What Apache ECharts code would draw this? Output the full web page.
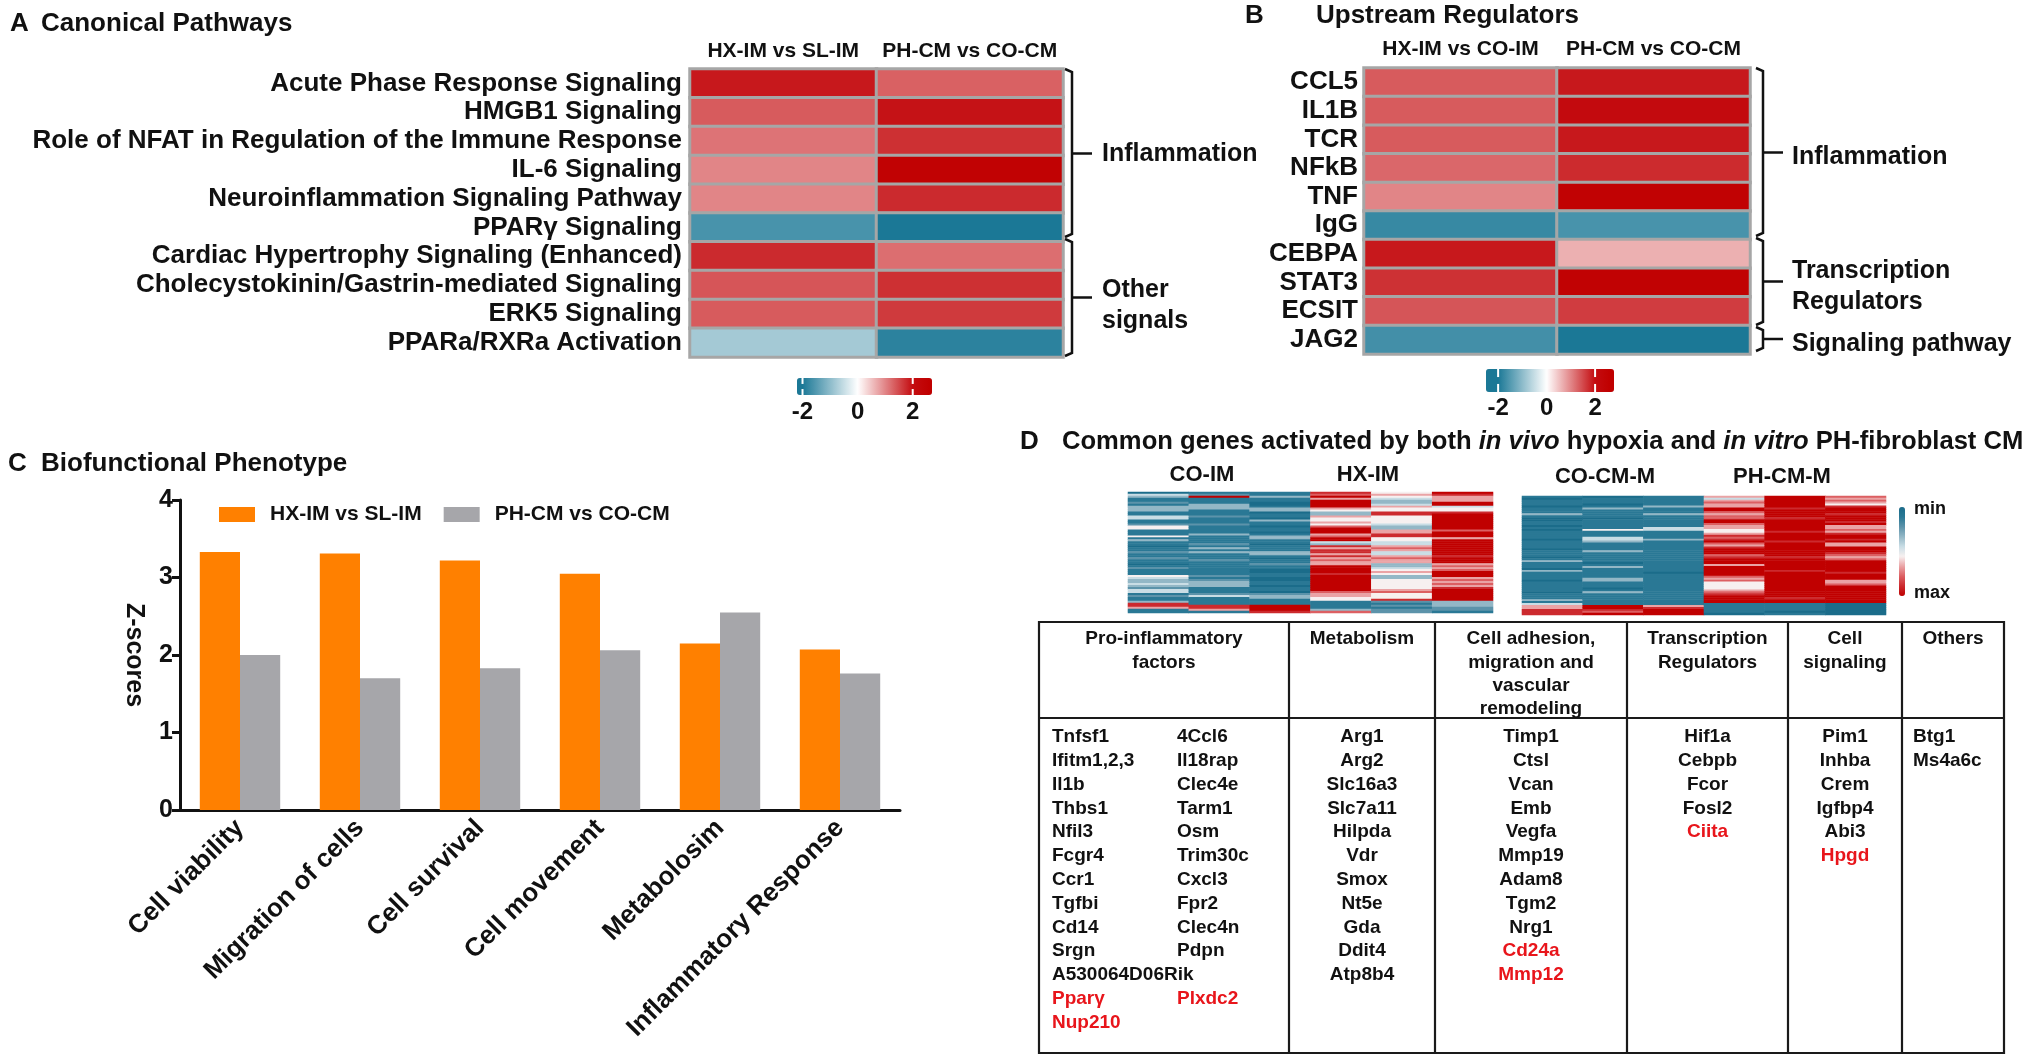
<!DOCTYPE html>
<html><head><meta charset="utf-8">
<script src="https://cdn.jsdelivr.net/npm/echarts@6/dist/echarts.min.js"></script>
<style>html,body{margin:0;padding:0;background:#fff}#c{width:2036px;height:1061px}</style>
</head><body><div id="c"></div><script>
const FONT = '"Liberation Sans", Arial, Helvetica, sans-serif';
const INK = '#111111';

// ---------- Panel A: Canonical Pathways ----------
const pathwayCols = ['HX-IM vs SL-IM', 'PH-CM vs CO-CM'];
const pathways = ['Acute Phase Response Signaling', 'HMGB1 Signaling', 'Role of NFAT in Regulation of the Immune Response',
  'IL-6 Signaling', 'Neuroinflammation Signaling Pathway', 'PPARγ Signaling', 'Cardiac Hypertrophy Signaling (Enhanced)',
  'Cholecystokinin/Gastrin-mediated Signaling', 'ERK5 Signaling', 'PPARa/RXRa Activation'];
const pathwayHX = [1.9, 1.35, 1.15, 1.0, 1.0, -1.6, 1.75, 1.4, 1.35, -0.8];
const pathwayPH = [1.3, 1.95, 1.7, 2.5, 1.75, -2.3, 1.2, 1.7, 1.62, -1.85];
const pathwayGroups = [['Inflammation'], ['Other', 'signals']];

// ---------- Panel B: Upstream Regulators ----------
const regulatorCols = ['HX-IM vs CO-IM', 'PH-CM vs CO-CM'];
const regulators = ['CCL5', 'IL1B', 'TCR', 'NFkB', 'TNF', 'IgG', 'CEBPA', 'STAT3', 'ECSIT', 'JAG2'];
const regulatorHX = [1.35, 1.35, 1.35, 1.25, 1.0, -1.75, 1.9, 1.7, 1.4, -1.65];
const regulatorPH = [1.9, 2.1, 1.9, 1.75, 2.5, -1.6, 0.65, 2.5, 1.6, -2.3];
const regulatorGroups = [['Inflammation'], ['Transcription', 'Regulators'], ['Signaling pathway']];
const scaleTicks = [-2, 0, 2];

// ---------- Panel C: Biofunctional Phenotype ----------
const phenotypes = ['Cell viability', 'Migration of cells', 'Cell survival', 'Cell movement', 'Metabolosim', 'Inflammatory Response'];
const seriesNames = ['HX-IM vs SL-IM', 'PH-CM vs CO-CM'];
const zHX = [3.33, 3.31, 3.22, 3.05, 2.15, 2.07];
const zPH = [2.00, 1.70, 1.83, 2.06, 2.55, 1.76];

// ---------- Panel D: heatmaps (0 = min ... 9 = max) ----------
const invivoGroups = ['CO-IM', 'HX-IM'];
const invitroGroups = ['CO-CM-M', 'PH-CM-M'];
const coIM1 = [0,4,3,1,1,2,1,3,3,3, 1,1,4,4,1,1,2,5,5,1, 1,1,5,1,3,1,1,0,1,1, 2,1,1,2,1,1,0,1,2,1, 1,1,5,4,3,3,4,3,2,4, 4,1,2,1,1,3,8,8,6,1, 1];
const coIM2 = [1,2,9,1,1,1,3,3,3,1, 1,1,2,1,1,1,2,1,1,1, 1,3,1,1,1,1,2,1,3,1, 3,1,1,1,2,1,1,1,1,1, 1,1,2,1,2,3,3,3,1,1, 1,2,4,1,1,1,1,8,8,6, 1];
const coIM3 = [1,1,3,1,1,0,0,1,3,3, 0,1,1,0,3,1,1,0,1,1, 0,1,3,3,1,1,0,1,1,1, 3,3,1,0,1,1,2,1,1,0, 0,1,1,0,0,1,1,0,1,1, 0,2,3,3,1,1,1,9,9,9, 8];
const hxIM1 = [8,7,9,6,9,9,9,9,6,5, 3,3,6,5,5,6,5,7,9,9, 9,6,7,9,9,4,3,8,6,8, 8,6,8,6,7,6,6,9,9,9, 9,8,9,9,9,9,9,9,9,9, 7,6,6,5,5,1,1,1,1,3, 7];
const hxIM2 = [5,6,5,4,3,3,4,6,5,5, 8,8,5,5,5,5,4,3,3,6, 6,8,8,5,5,4,4,6,7,6, 4,4,6,7,6,6,3,3,4,5, 6,5,3,3,5,5,5,5,5,6, 7,5,5,5,8,2,1,2,1,2, 2];
const hxIM3 = [9,8,6,6,6,9,9,4,5,5, 8,9,9,9,9,9,9,9,9,7, 9,9,9,6,9,9,9,9,9,9, 9,9,8,9,9,9,6,7,6,7, 9,9,9,6,7,6,7,6,8,9, 9,9,9,9,9,3,3,3,2,2, 1];
const coCM1 = [1,0,1,1,1,0,1,1,1,3, 1,0,0,1,1,0,1,0,1,1, 1,1,0,1,1,1,1,0,1,1, 1,0,1,3,1,1,1,0,3,1, 1,1,1,0,1,1,1,1,1,0, 1,1,1,3,1,4,6,6,8,8, 8];
const coCM2 = [0,1,1,1,0,1,3,1,1,1, 1,0,1,1,1,1,1,5,1,1, 1,4,4,3,1,1,1,1,3,1, 1,1,1,1,0,1,3,1,1,1, 1,1,3,3,1,1,1,0,1,3, 1,1,1,1,1,1,9,9,8,7, 9];
const coCM3 = [1,1,1,1,1,3,1,1,1,3, 1,1,1,1,1,1,4,4,1,1, 1,1,3,1,1,1,1,1,1,1, 1,1,1,1,1,1,1,1,1,0, 1,1,1,1,1,1,1,1,1,1, 1,1,1,1,1,1,6,8,9,9, 9];
const phCM1 = [6,4,6,7,6,6,9,9,7,6, 7,7,9,9,7,6,6,5,5,6, 8,7,8,9,7,6,8,9,9,9, 7,8,9,9,9,6,9,9,9,9, 9,7,6,7,5,5,5,5,6,7, 8,9,9,9,9,1,1,1,1,1, 0];
const phCM2 = [9,9,9,9,9,9,8,9,9,9, 9,8,9,9,9,9,9,9,8,9, 9,9,9,8,9,9,9,9,9,9, 9,8,9,9,9,9,9,9,8,9, 9,9,9,9,9,9,9,9,9,9, 9,9,8,9,9,1,1,1,1,0, 1];
const phCM3 = [7,6,7,6,5,8,9,9,9,8, 9,9,9,8,9,6,6,7,6,8, 9,9,8,9,6,6,9,9,9,8, 7,6,7,9,9,9,9,9,9,8, 9,9,9,6,6,7,9,9,9,9, 9,9,9,9,9,0,0,0,0,0, 0];

// ---------- Panel D: gene table ----------
const tableHeaders = [['Pro-inflammatory', 'factors'], ['Metabolism'], ['Cell adhesion,', 'migration and', 'vascular', 'remodeling'],
  ['Transcription', 'Regulators'], ['Cell', 'signaling'], ['Others']];
const proInflamA = ['Tnfsf1', 'Ifitm1,2,3', 'Il1b', 'Thbs1', 'Nfil3', 'Fcgr4', 'Ccr1', 'Tgfbi', 'Cd14', 'Srgn', 'A530064D06Rik', 'Pparγ', 'Nup210'];
const proInflamB = ['4Ccl6', 'Il18rap', 'Clec4e', 'Tarm1', 'Osm', 'Trim30c', 'Cxcl3', 'Fpr2', 'Clec4n', 'Pdpn', '', 'Plxdc2'];
const metabolism = ['Arg1', 'Arg2', 'Slc16a3', 'Slc7a11', 'Hilpda', 'Vdr', 'Smox', 'Nt5e', 'Gda', 'Ddit4', 'Atp8b4'];
const adhesion = ['Timp1', 'Ctsl', 'Vcan', 'Emb', 'Vegfa', 'Mmp19', 'Adam8', 'Tgm2', 'Nrg1', 'Cd24a', 'Mmp12'];
const transcription = ['Hif1a', 'Cebpb', 'Fcor', 'Fosl2', 'Ciita'];
const signaling = ['Pim1', 'Inhba', 'Crem', 'Igfbp4', 'Abi3', 'Hpgd'];
const others = ['Btg1', 'Ms4a6c'];
const downGenes = ['Pparγ', 'Nup210', 'Plxdc2', 'Cd24a', 'Mmp12', 'Ciita', 'Hpgd'];

// ---------- colour scales ----------
function mix(a, b, f) { return 'rgb(' + a.map((v, i) => Math.round(v + (b[i] - v) * f)).join(',') + ')'; }
const WHITE = [255, 255, 255], BLUE = [27, 120, 150], RED = [196, 12, 16], DARKRED = [192, 0, 0];
function zColor(v) {
  if (v <= -2) return mix(BLUE, BLUE, 0);
  if (v < 0) return mix(WHITE, BLUE, -v / 2);
  if (v <= 2) return mix(WHITE, RED, v / 2);
  return mix(RED, DARKRED, Math.min(1, (v - 2) / 0.6));
}
function ramp(min, max) { const out = []; for (let i = 0; i <= 100; i++) out.push(zColor(min + (max - min) * i / 100)); return out; }
const dColors = ['#1b6c8a', '#2a7895', '#5c93aa', '#93b7c6', '#c9dde5', '#f7f0f0', '#eaa3a5', '#dc5f62', '#cc2a2e', '#c00000'];

// ---------- layout ----------
const L = {
  A: { left: 690, top: 69, width: 373, height: 288, bar: { left: 797, top: 378, len: 135, thick: 17, min: -2.2, max: 2.7, labelY: 412 },
       brX: 1072, brBreaks: [69, 238, 357], textX: 1102, textShift: [1, 8] },
  B: { left: 1364, top: 68, width: 386, height: 286, bar: { left: 1486, top: 369, len: 128, thick: 23, min: -2.5, max: 2.78, labelY: 408 },
       brX: 1763, brBreaks: [68, 237, 326, 352], textX: 1792, textShift: [5, 5, 5] },
  C: { left: 180, top: 500, width: 720, height: 310 },
  D1: { left: 1128, top: 492, width: 365, height: 121 },
  D2: { left: 1522, top: 496, width: 364, height: 119 },
  T: { cols: [1039, 1289, 1435, 1627, 1788, 1902, 2004], top: 622, head: 718, bottom: 1053, headY: 639, headStep: 23.3, bodyY: 737, bodyStep: 23.8 }
};

// ---------- build data ----------
function heatData(rows, c0, c1) { const d = []; rows.forEach((r, i) => { d.push([0, i, c0[i]]); d.push([1, i, c1[i]]); }); return d; }
function colsData(cols) { const d = []; cols.forEach((c, x) => c.forEach((v, y) => d.push([x, y, v]))); return d; }
const rowIdx = coIM1.map((_, i) => i);

// ---------- graphic helpers ----------
const G = [];
function T(text, x, y, size, o) {
  G.push({ type: 'text', x: x, y: y, silent: true, z: 10,
    style: Object.assign({ text: text, fill: INK, font: 'bold ' + size + 'px ' + FONT, align: 'left', verticalAlign: 'middle' }, o || {}) });
}
function P(points, w, color) { G.push({ type: 'polyline', silent: true, z: 10, shape: { points: points }, style: { stroke: color || INK, lineWidth: w, fill: null } }); }

// panel titles
T('A', 10, 24, 26); T('Canonical Pathways', 41, 24, 26);
T('B', 1245, 16, 26); T('Upstream Regulators', 1316, 16, 26);
T('C', 8, 464, 26); T('Biofunctional Phenotype', 41, 464, 26);
T('D', 1020, 442, 26);
G.push({ type: 'text', x: 1062, y: 442, silent: true, style: {
  text: '{b|Common genes activated by both }{i|in vivo}{b| hypoxia and }{i|in vitro}{b| PH-fibroblast CM}',
  verticalAlign: 'middle', align: 'left', fill: INK, font: 'bold 25.6px ' + FONT,
  rich: { b: { font: 'bold 25.6px ' + FONT, fill: INK }, i: { font: 'italic bold 25.6px ' + FONT, fill: INK } } } });

// brackets
function brackets(cfg, groups) {
  for (let g = 0; g < groups.length; g++) {
    const y1 = cfg.brBreaks[g] + (g ? 1 : 0), y2 = cfg.brBreaks[g + 1] - 1, ym = (cfg.brBreaks[g] + cfg.brBreaks[g + 1]) / 2;
    P([[cfg.brX - 7, y1], [cfg.brX, y1 + 3], [cfg.brX, y2 - 3], [cfg.brX - 7, y2]], 2.5);
    P([[cfg.brX, ym], [cfg.brX + 20, ym]], 2.5);
    const lines = groups[g];
    lines.forEach((t, k) => T(t, cfg.textX, ym + cfg.textShift[g] + (k - (lines.length - 1) / 2) * 31, 25));
  }
}
brackets(L.A, pathwayGroups);
brackets(L.B, regulatorGroups);

// colour bar tick labels and marks
function barMarks(b) {
  scaleTicks.forEach(v => {
    const x = b.left + (v - b.min) / (b.max - b.min) * b.len;
    T(String(v), x, b.labelY, 24, { align: 'center' });
    if (v !== 0) {
      P([[x, b.top], [x, b.top + b.thick * 0.35]], 2, '#ffffff');
      P([[x, b.top + b.thick * 0.65], [x, b.top + b.thick]], 2, '#ffffff');
    }
  });
}
barMarks(L.A.bar); barMarks(L.B.bar);

// D column group labels + min/max
T(invivoGroups[0], 1202, 475, 22, { align: 'center' });
T(invivoGroups[1], 1368, 475, 22, { align: 'center' });
T(invitroGroups[0], 1605, 477, 22, { align: 'center' });
T(invitroGroups[1], 1782, 477, 22, { align: 'center' });
T('min', 1914, 509, 18); T('max', 1914, 593, 18);

// gene table
const TB = L.T;
G.push({ type: 'rect', silent: true, shape: { x: TB.cols[0], y: TB.top, width: TB.cols[6] - TB.cols[0], height: TB.bottom - TB.top },
  style: { fill: null, stroke: '#1a1a1a', lineWidth: 2.2 } });
P([[TB.cols[0], TB.head], [TB.cols[6], TB.head]], 2.2, '#1a1a1a');
for (let i = 1; i < 6; i++) P([[TB.cols[i], TB.top], [TB.cols[i], TB.bottom]], 2.2, '#1a1a1a');
tableHeaders.forEach((lines, c) => {
  const cx = (TB.cols[c] + TB.cols[c + 1]) / 2;
  lines.forEach((t, k) => T(t, cx, TB.headY + k * TB.headStep, 19, { align: 'center' }));
});
function geneCol(list, x, align) {
  list.forEach((g, k) => { if (g) T(g, x, TB.bodyY + k * TB.bodyStep, 19, { align: align, fill: downGenes.includes(g) ? '#e8151b' : INK }); });
}
const mid = c => (TB.cols[c] + TB.cols[c + 1]) / 2;
geneCol(proInflamA, 1052, 'left');
geneCol(proInflamB, 1177, 'left');
geneCol(metabolism, mid(1), 'center');
geneCol(adhesion, mid(2), 'center');
geneCol(transcription, mid(3), 'center');
geneCol(signaling, mid(4), 'center');
geneCol(others, 1913, 'left');

// ---------- option ----------
const hide = { show: false };
const boldLabel = (size, extra) => Object.assign({ fontSize: size, fontWeight: 'bold', color: INK, fontFamily: FONT }, extra || {});
const heatStyle = { borderColor: '#a6a6a6', borderWidth: 3 };

const option = {
  animation: false,
  textStyle: { fontFamily: FONT },
  grid: [
    { left: L.A.left, top: L.A.top, width: L.A.width, height: L.A.height },
    { left: L.B.left, top: L.B.top, width: L.B.width, height: L.B.height },
    { left: L.C.left, top: L.C.top, width: L.C.width, height: L.C.height },
    { left: L.D1.left, top: L.D1.top, width: L.D1.width, height: L.D1.height },
    { left: L.D2.left, top: L.D2.top, width: L.D2.width, height: L.D2.height }
  ],
  xAxis: [
    { gridIndex: 0, type: 'category', data: pathwayCols, position: 'top', axisLine: hide, axisTick: hide, splitLine: hide,
      axisLabel: boldLabel(21, { margin: 7, interval: 0 }) },
    { gridIndex: 1, type: 'category', data: regulatorCols, position: 'top', axisLine: hide, axisTick: hide, splitLine: hide,
      axisLabel: boldLabel(21, { margin: 8, interval: 0 }) },
    { gridIndex: 2, type: 'category', data: phenotypes, axisTick: hide,
      axisLine: { lineStyle: { color: INK, width: 3 } },
      axisLabel: boldLabel(26, { rotate: 45, interval: 0, margin: 14 }) },
    { gridIndex: 3, type: 'category', data: [0, 1, 2, 3, 4, 5], show: false },
    { gridIndex: 4, type: 'category', data: [0, 1, 2, 3, 4, 5], show: false }
  ],
  yAxis: [
    { gridIndex: 0, type: 'category', data: pathways, inverse: true, axisLine: hide, axisTick: hide, splitLine: hide,
      axisLabel: boldLabel(26, { margin: 8, interval: 0 }) },
    { gridIndex: 1, type: 'category', data: regulators, inverse: true, axisLine: hide, axisTick: hide, splitLine: hide,
      axisLabel: boldLabel(26, { margin: 6, interval: 0 }) },
    { gridIndex: 2, type: 'value', min: 0, max: 4, interval: 1, splitLine: hide,
      axisLine: { show: true, lineStyle: { color: INK, width: 3 } },
      axisTick: { show: true, length: 8, lineStyle: { color: INK, width: 3 } },
      axisLabel: boldLabel(25, { margin: 7 }),
      name: 'Z-scores', nameLocation: 'middle', nameRotate: -90, nameGap: 34,
      nameTextStyle: boldLabel(25) },
    { gridIndex: 3, type: 'category', data: rowIdx, inverse: true, show: false },
    { gridIndex: 4, type: 'category', data: rowIdx, inverse: true, show: false }
  ],
  legend: {
    data: seriesNames, left: 214, top: 499, icon: 'rect', itemWidth: 36, itemHeight: 15, itemGap: 22,
    textStyle: boldLabel(21, { padding: [0, 0, 0, 10] }), selectedMode: false
  },
  visualMap: [
    { type: 'continuous', seriesIndex: 0, min: L.A.bar.min, max: L.A.bar.max, orient: 'horizontal', calculable: false, hoverLink: false,
      left: L.A.bar.left, top: L.A.bar.top, itemWidth: L.A.bar.thick, itemHeight: L.A.bar.len, padding: 0,
      inRange: { color: ramp(L.A.bar.min, L.A.bar.max) } },
    { type: 'continuous', seriesIndex: 1, min: L.B.bar.min, max: L.B.bar.max, orient: 'horizontal', calculable: false, hoverLink: false,
      left: L.B.bar.left, top: L.B.bar.top, itemWidth: L.B.bar.thick, itemHeight: L.B.bar.len, padding: 0,
      inRange: { color: ramp(L.B.bar.min, L.B.bar.max) } },
    { type: 'continuous', seriesIndex: [4, 5], min: 0, max: 9, orient: 'vertical', inverse: true, calculable: false, hoverLink: false,
      left: 1899, top: 507, itemWidth: 6, itemHeight: 89, padding: 0, inRange: { color: dColors } }
  ],
  series: [
    { type: 'heatmap', xAxisIndex: 0, yAxisIndex: 0, data: heatData(pathways, pathwayHX, pathwayPH), itemStyle: heatStyle, emphasis: { disabled: true } },
    { type: 'heatmap', xAxisIndex: 1, yAxisIndex: 1, data: heatData(regulators, regulatorHX, regulatorPH), itemStyle: heatStyle, emphasis: { disabled: true } },
    { type: 'bar', name: seriesNames[0], xAxisIndex: 2, yAxisIndex: 2, data: zHX, itemStyle: { color: '#ff8000' }, barGap: '0%', barCategoryGap: '33%' },
    { type: 'bar', name: seriesNames[1], xAxisIndex: 2, yAxisIndex: 2, data: zPH, itemStyle: { color: '#a6a6aa' }, barGap: '0%', barCategoryGap: '33%' },
    { type: 'heatmap', xAxisIndex: 3, yAxisIndex: 3, data: colsData([coIM1, coIM2, coIM3, hxIM1, hxIM2, hxIM3]), emphasis: { disabled: true } },
    { type: 'heatmap', xAxisIndex: 4, yAxisIndex: 4, data: colsData([coCM1, coCM2, coCM3, phCM1, phCM2, phCM3]), emphasis: { disabled: true } }
  ],
  graphic: G
};

const chart = echarts.init(document.getElementById('c'), null, { renderer: 'canvas' });
chart.setOption(option);
</script></body></html>
